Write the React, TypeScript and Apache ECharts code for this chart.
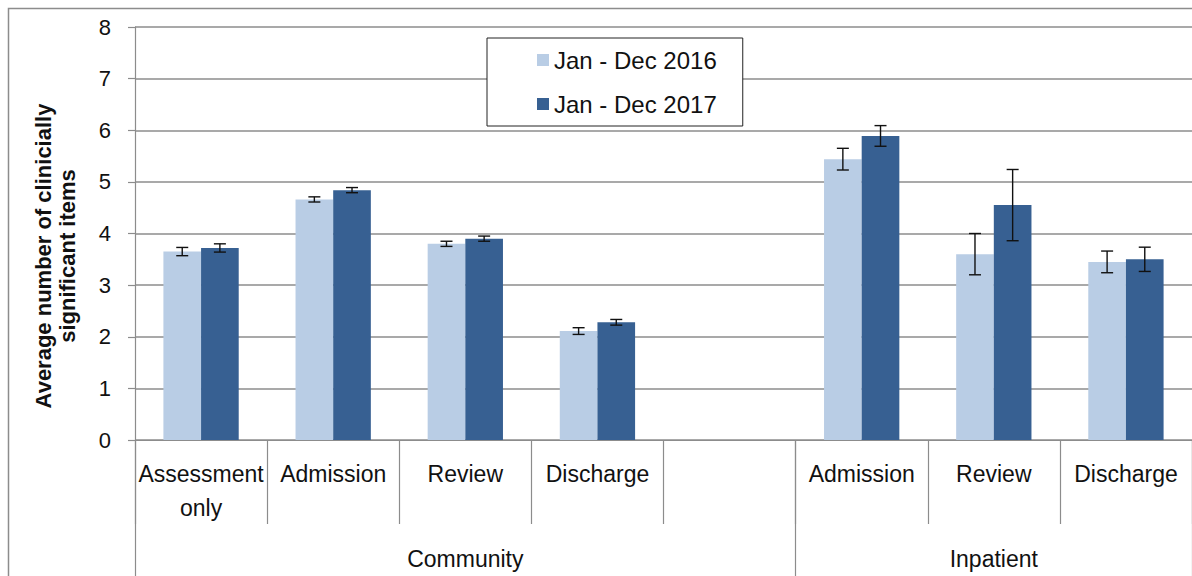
import React, { useEffect, useRef } from "react";
import * as echarts from "echarts";

const categories = ["Assessment\nonly", "Admission", "Review", "Discharge", "", "Admission", "Review", "Discharge"];
const groupLabels = ["", "", "Community", "", "", "", "Inpatient", ""];
const seriesNames = ["Jan - Dec 2016", "Jan - Dec 2017"];
const values2016 = [3.65, 4.66, 3.8, 2.11, null, 5.44, 3.6, 3.45];
const values2017 = [3.72, 4.84, 3.9, 2.28, null, 5.89, 4.55, 3.5];
const err2016 = [0.08, 0.05, 0.05, 0.065, null, 0.21, 0.4, 0.21];
const err2017 = [0.08, 0.05, 0.05, 0.055, null, 0.2, 0.69, 0.235];
const yTicks = [0, 1, 2, 3, 4, 5, 6, 7, 8];
const yTitle = "Average number of clinicially\nsignificant items";

const FONT = "Liberation Sans";
const GRAY = "#8c8c8c";
const BAND_GAP = 0.43;

function errData(vals: (number | null)[], errs: (number | null)[]) {
  const out: any[] = [];
  vals.forEach((v, i) => {
    const e = errs[i];
    if (v != null && e != null) out.push([i, v - e, v + e]);
  });
  return out;
}

function makeErrSeries(name: string, vals: (number | null)[], errs: (number | null)[], side: number) {
  return {
    type: "custom",
    name: name + " error",
    xAxisIndex: 0,
    yAxisIndex: 0,
    z: 5,
    silent: true,
    data: errData(vals, errs),
    encode: { x: 0, y: [1, 2] },
    renderItem: (params: any, api: any) => {
      const idx = api.value(0);
      const lo = api.coord([idx, api.value(1)]);
      const hi = api.coord([idx, api.value(2)]);
      const band = api.size([1, 0])[0];
      const barW = (band * (1 - BAND_GAP)) / 2;
      const x = lo[0] + side * barW / 2;
      const cap = 6;
      const style = { stroke: "#111", lineWidth: 1.4 };
      return {
        type: "group",
        children: [
          { type: "line", shape: { x1: x, y1: lo[1], x2: x, y2: hi[1] }, style },
          { type: "line", shape: { x1: x - cap, y1: lo[1], x2: x + cap, y2: lo[1] }, style },
          { type: "line", shape: { x1: x - cap, y1: hi[1], x2: x + cap, y2: hi[1] }, style },
        ],
      };
    },
  };
}

export default function App() {
  const ref = useRef<HTMLDivElement>(null);
  useEffect(() => {
    if (!ref.current) return;
    const chart = echarts.init(ref.current, null, { renderer: "svg" });
    chart.setOption({
      animation: false,
      backgroundColor: "#ffffff",
      textStyle: { fontFamily: FONT },
      graphic: [
        {
          type: "rect",
          shape: { x: 8.5, y: 8.5, width: 1300, height: 700 },
          style: { fill: "none", stroke: GRAY, lineWidth: 1.5 },
          z: -10,
          silent: true,
        },
        {
          type: "text",
          x: 55,
          y: 256,
          rotation: Math.PI / 2,
          silent: true,
          style: {
            text: yTitle,
            fontFamily: FONT,
            fontSize: 22,
            fontWeight: "bold",
            lineHeight: 24,
            fill: "#111",
            align: "center",
            verticalAlign: "middle",
          },
        },
      ],
      legend: {
        data: seriesNames,
        orient: "vertical",
        left: 487,
        top: 38,
        padding: [10, 26, 10, 50],
        itemGap: 20,
        itemWidth: 12,
        itemHeight: 12,
        icon: "rect",
        borderColor: "#222",
        borderWidth: 1,
        backgroundColor: "#fff",
        textStyle: { fontFamily: FONT, fontSize: 24, color: "#111", lineHeight: 24 },
      },
      grid: { left: 135, right: -1, top: 27, bottom: 135, containLabel: false },
      xAxis: [
        {
          type: "category",
          data: categories,
          position: "bottom",
          axisLine: { show: true, lineStyle: { color: GRAY, width: 1.2 } },
          axisTick: { show: true, length: 84, lineStyle: { color: GRAY, width: 1.2 } },
          axisLabel: { interval: 0, margin: 17, fontFamily: FONT, fontSize: 23, color: "#111", lineHeight: 34 },
          splitLine: { show: false },
        },
        {
          type: "category",
          data: groupLabels,
          position: "bottom",
          axisLine: { show: false },
          axisTick: {
            show: true,
            length: 140,
            interval: (i: number) => i === 0 || i === 5,
            lineStyle: { color: GRAY, width: 1.2 },
          },
          axisLabel: { interval: 0, margin: 102, fontFamily: FONT, fontSize: 23, color: "#111", lineHeight: 34 },
          splitLine: { show: false },
        },
      ],
      yAxis: {
        type: "value",
        min: yTicks[0],
        max: yTicks[yTicks.length - 1],
        interval: 1,
        axisLine: { show: true, lineStyle: { color: GRAY, width: 1.2 } },
        axisTick: { show: true, length: 7, lineStyle: { color: GRAY, width: 1.2 } },
        axisLabel: { margin: 24, fontFamily: FONT, fontSize: 22, color: "#111" },
        splitLine: { show: true, lineStyle: { color: GRAY, width: 1.5 } },
      },
      series: [
        {
          name: seriesNames[0],
          type: "bar",
          data: values2016.map((v) => (v == null ? "-" : v)),
          barGap: "0%",
          barCategoryGap: BAND_GAP * 100 + "%",
          itemStyle: { color: "#b9cde5" },
        },
        {
          name: seriesNames[1],
          type: "bar",
          data: values2017.map((v) => (v == null ? "-" : v)),
          barGap: "0%",
          barCategoryGap: BAND_GAP * 100 + "%",
          itemStyle: { color: "#376092" },
        },
        makeErrSeries(seriesNames[0], values2016, err2016, -1),
        makeErrSeries(seriesNames[1], values2017, err2017, 1),
      ],
    });
    return () => chart.dispose();
  }, []);
  return (
    <div
      ref={ref}
      style={{ position: "fixed", left: 0, top: 0, width: 1192, height: 576, background: "#fff" }}
    />
  );
}
